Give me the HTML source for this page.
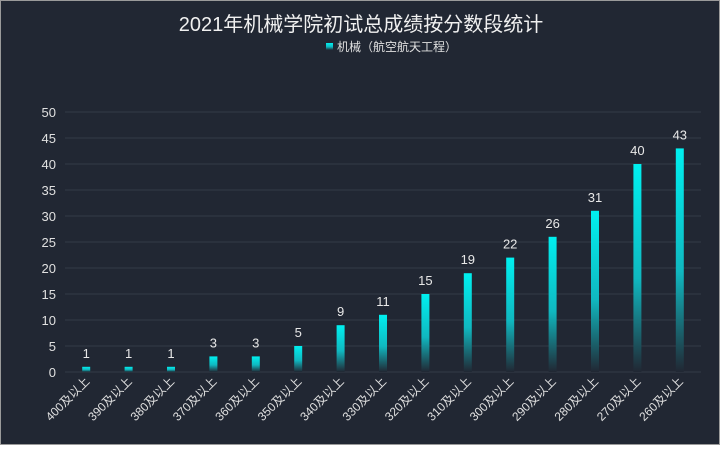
<!DOCTYPE html>
<html><head><meta charset="utf-8"><style>
html,body{margin:0;padding:0;background:#fff;width:720px;height:454px;overflow:hidden}
#c{position:absolute;left:0;top:0;width:718px;height:443px;border:1px solid #9a9a9a;background:#212733}
svg{position:absolute;left:0;top:0}
text{font-family:"Liberation Sans","Noto Sans CJK SC",sans-serif}
</style></head><body>
<div id="c">
<svg id="s" width="720" height="454">
<defs><linearGradient id="g" x1="0" y1="0" x2="0" y2="1">
<stop offset="0" stop-color="#00f0f0"/><stop offset="0.55" stop-color="#10b8c0"/><stop offset="1" stop-color="#212733"/></linearGradient></defs>
<text x="360" y="30" text-anchor="middle" font-size="20" fill="#f0f0f0">2021年机械学院初试总成绩按分数段统计</text>
<g><rect x="325" y="42" width="7" height="7" fill="url(#g)"/>
<text x="336" y="50" font-size="12" fill="#e0e0e0">机械（航空航天工程）</text></g>
<g id="plot"></g>
</svg></div>
<script>
const categories=["400及以上","390及以上","380及以上","370及以上","360及以上","350及以上","340及以上","330及以上","320及以上","310及以上","300及以上","290及以上","280及以上","270及以上","260及以上"];
const values=[1,1,1,3,3,5,9,11,15,19,22,26,31,40,43];
const yTicks=[0,5,10,15,20,25,30,35,40,45,50];
const L=64,R=700,T=111,B=371,YMAX=50;
const y=v=>B-(v/YMAX)*(B-T);
const step=(R-L)/categories.length;
const x=i=>L+step*(i+0.5);
const ns="http://www.w3.org/2000/svg",p=document.getElementById('plot');
function mk(t,a,txt){const e=document.createElementNS(ns,t);for(const k in a)e.setAttribute(k,a[k]);if(txt!=null)e.textContent=txt;p.appendChild(e);return e;}
yTicks.forEach(v=>{
const l=mk('line',{x1:L,x2:R,y1:y(v),y2:y(v),stroke:'#333b47','stroke-width':1});


const t=mk('text',{x:55,y:y(v)+5,'text-anchor':'end','font-size':13,fill:'#e0e0e0'},v);


});
categories.forEach((c,i)=>{
const v=values[i],cx=x(i);
const r=mk('rect',{x:cx-4,y:y(v),width:8,height:B-y(v),fill:'url(#g)'});


const lb=mk('text',{x:cx,y:y(v)-9,'text-anchor':'middle','font-size':13,fill:'#e8e8e8'},v);


const t=mk('text',{x:cx+4,y:381,'text-anchor':'end','font-size':12,fill:'#e0e0e0',transform:`rotate(-45 ${cx+4} 381)`},c);


});
</script>
</body></html>
